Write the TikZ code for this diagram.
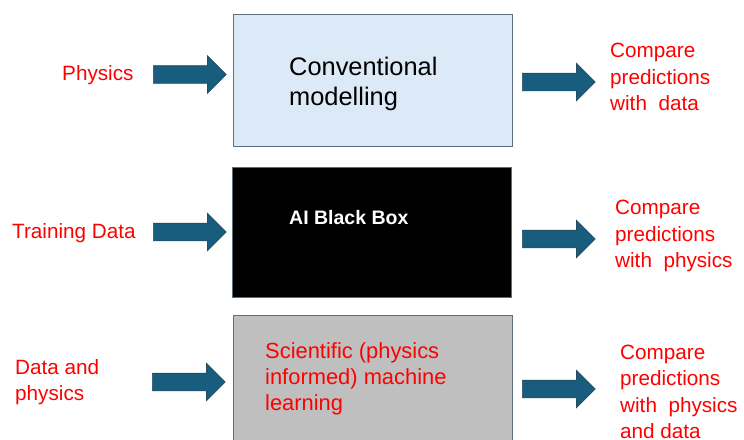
\documentclass[tikz,border=0pt]{standalone}
\usepackage{fontspec}
\setmainfont{Liberation Sans}
\usetikzlibrary{shapes.arrows}
\definecolor{boxline}{HTML}{5B6F7E}
\definecolor{paleblue}{HTML}{DCE9F6}
\definecolor{midgray}{HTML}{BFBFBF}
\definecolor{arrowfill}{HTML}{185C7E}
\definecolor{arrowline}{HTML}{2A4A5E}
\definecolor{labelred}{HTML}{FF0000}
\tikzset{
  stage/.style={draw=boxline, line width=1.2pt, minimum width=279pt, anchor=north west, inner sep=0pt},
  fatarrow/.style={single arrow, draw=arrowline, fill=arrowfill, line width=0.6pt,
    minimum height=73pt, inner xsep=0pt, inner ysep=8.5pt, single arrow head extend=10pt,
    single arrow tip angle=90, anchor=west},
  redlabel/.style={text=labelred, font=\fontsize{20.7}{26.5}\selectfont, align=left, anchor=west, inner sep=0pt}
}
\begin{document}
\begin{tikzpicture}[x=1pt,y=-1pt]
\useasboundingbox (0,0) rectangle (744,439);

% three stages
\node[stage, fill=paleblue, minimum height=132pt] (conv) at (233,14) {};
\node[stage, fill=black, minimum height=130pt] (bbox) at (232,167) {};
\node[stage, fill=midgray, minimum height=140pt] (sciml) at (233,315) {};

\node[anchor=west, inner sep=0pt, align=left, font=\fontsize{25.4}{30}\selectfont] (convtext) at (289,84) {Conventional\\modelling};
\node[anchor=west, inner sep=0pt, text=white, font=\fontsize{19.5}{24}\selectfont\bfseries] (bboxtext) at (289,218) {AI Black Box};
\node[redlabel, font=\fontsize{21.9}{26}\selectfont] (scitext) at (265,379) {Scientific (physics\\informed) machine\\learning};

% inputs
\node[redlabel] (in1) at (62,75) {Physics};
\node[redlabel] (in2) at (12,233) {Training Data};
\node[redlabel] (in3) at (15,382) {Data and\\physics};

\node[fatarrow] (a1) at (153,74.5) {};
\node[fatarrow] (a2) at (153,232) {};
\node[fatarrow] (a3) at (152,382) {};

% outputs
\node[fatarrow] (b1) at (522,82) {};
\node[fatarrow] (b2) at (522,239) {};
\node[fatarrow] (b3) at (522,389) {};

\node[redlabel] (out1) at (610,77) {Compare\\predictions\\with~~data};
\node[redlabel] (out2) at (615,236) {Compare\\predictions\\with~~physics};
\node[redlabel] (out3) at (620,392) {Compare\\predictions\\with~~physics\\and data};
\end{tikzpicture}
\end{document}
